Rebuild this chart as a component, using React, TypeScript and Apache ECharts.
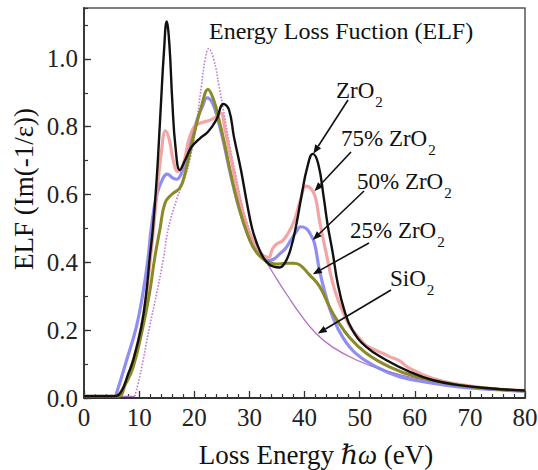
import React, { useEffect, useRef } from "react";
import * as echarts from "echarts";

// ---------- data ----------
const zrO2E = [0, 5.5, 6.8, 8, 8.9, 10.4, 11.3, 11.9, 12.5, 13.2, 13.6, 14, 14.5, 15, 15.5, 16, 16.6, 17.4, 18.3, 19.5, 21, 22.5, 24, 25.3, 26.3, 27.2, 28.5, 29.5, 30.5, 31.5, 32.5, 33.5, 34.5, 35.5, 36.5, 37.5, 38.5, 39.5, 40.5, 41.5, 42.5, 43.5, 44.2, 45.1, 46, 47.2, 48.7, 51.2, 54.8, 59, 63.2, 68, 74, 80];
const zrO2ELF = [0.005, 0.005, 0.02, 0.07, 0.11, 0.21, 0.31, 0.41, 0.5, 0.65, 0.76, 0.88, 1.02, 1.11, 1.04, 0.88, 0.74, 0.672, 0.7, 0.74, 0.765, 0.785, 0.82, 0.867, 0.85, 0.77, 0.67, 0.58, 0.5, 0.45, 0.415, 0.395, 0.387, 0.385, 0.4, 0.44, 0.51, 0.6, 0.68, 0.72, 0.69, 0.59, 0.51, 0.43, 0.34, 0.26, 0.2, 0.151, 0.112, 0.078, 0.053, 0.038, 0.028, 0.022];

const zr75E = [0, 5.5, 6.8, 8.9, 10.4, 11.3, 11.9, 12.5, 13.2, 14, 14.8, 15.5, 16.2, 17, 18, 19, 20, 21, 22, 23, 24, 24.8, 25.6, 26.5, 27.5, 28.5, 29.5, 30.5, 31.5, 32.5, 33.5, 34.2, 35, 36, 37, 38.2, 39.2, 40.3, 41.3, 42, 42.7, 43.9, 45.1, 46.3, 47.5, 48.5, 50, 51.2, 53, 54.2, 55.4, 57.2, 59, 63.2, 68, 74, 80];
const zr75ELF = [0.005, 0.005, 0.02, 0.11, 0.21, 0.3, 0.39, 0.48, 0.6, 0.72, 0.788, 0.76, 0.7, 0.668, 0.69, 0.76, 0.8, 0.81, 0.815, 0.82, 0.83, 0.84, 0.79, 0.72, 0.64, 0.57, 0.51, 0.47, 0.44, 0.42, 0.415, 0.44, 0.455, 0.463, 0.485, 0.525, 0.58, 0.625, 0.615, 0.59, 0.525, 0.43, 0.34, 0.28, 0.235, 0.205, 0.175, 0.155, 0.14, 0.132, 0.122, 0.11, 0.088, 0.058, 0.04, 0.028, 0.022];

const zr50E = [0, 5.5, 5.9, 7.7, 9.5, 10.7, 11.6, 12.2, 13.2, 14.4, 15.1, 16, 16.8, 17.6, 18.5, 19.5, 20.5, 21.5, 22.3, 23.3, 24.3, 25.3, 26.3, 27.3, 28.3, 29.3, 30.3, 31.3, 32.3, 33.5, 34.5, 35.5, 36.5, 37.5, 38.5, 39.3, 40.3, 41, 41.8, 42.7, 43.9, 45.1, 46.9, 49.4, 53, 57.2, 63.2, 68, 74, 80];
const zr50ELF = [0.005, 0.005, 0.015, 0.11, 0.21, 0.31, 0.41, 0.5, 0.6, 0.65, 0.66, 0.65, 0.645, 0.66, 0.7, 0.76, 0.82, 0.86, 0.885, 0.87, 0.82, 0.755, 0.68, 0.61, 0.55, 0.5, 0.46, 0.435, 0.415, 0.405, 0.41, 0.425, 0.44, 0.465, 0.49, 0.505, 0.5, 0.485, 0.457, 0.378, 0.3, 0.24, 0.18, 0.13, 0.092, 0.063, 0.044, 0.033, 0.025, 0.02];

const zr25E = [0, 6.2, 7.5, 8.9, 10.7, 11.9, 12.8, 13.8, 14.7, 15.9, 17.4, 18.3, 19.3, 20.3, 21.3, 22.5, 23.5, 24.5, 25.5, 26.5, 27.5, 28.5, 29.5, 30.5, 31.5, 32.5, 33.5, 35, 36.5, 38, 39.1, 40.9, 42.7, 44.5, 45.7, 48.1, 51.2, 55.4, 60.2, 68, 74, 80];
const zr25ELF = [0.005, 0.005, 0.04, 0.09, 0.21, 0.31, 0.41, 0.5, 0.575, 0.6, 0.62, 0.66, 0.73, 0.8, 0.86, 0.91, 0.88, 0.82, 0.75, 0.67, 0.6, 0.54, 0.49, 0.45, 0.425, 0.41, 0.4, 0.395, 0.397, 0.397, 0.393, 0.363, 0.33, 0.27, 0.235, 0.18, 0.132, 0.092, 0.063, 0.038, 0.027, 0.021];

const siO2E = [0, 9.2, 10.1, 11.9, 13.2, 14.4, 15.3, 16.8, 18.3, 19.3, 20.3, 21.3, 22, 22.6, 23.5, 24.5, 25.5, 26.5, 27.5, 28.5, 29.5, 30.5, 31.5, 32.5, 33.5, 35, 37, 39.1, 42.1, 45.1, 49.4, 54.2, 60.2, 68, 74, 80];
const siO2ELF = [0.005, 0.005, 0.062, 0.21, 0.31, 0.41, 0.5, 0.585, 0.65, 0.71, 0.8, 0.92, 1.0, 1.03, 1.0, 0.92, 0.83, 0.74, 0.66, 0.58, 0.52, 0.47, 0.435, 0.41, 0.39, 0.35, 0.3, 0.25, 0.19, 0.15, 0.112, 0.083, 0.058, 0.038, 0.027, 0.02];

const siO2DottedFrom = 9.2;
const siO2DottedTo = 33.5;

// annotation labels and where their arrows point (data coords)
const labelTexts = ["ZrO{s|2}", "75% ZrO{s|2}", "50% ZrO{s|2}", "25% ZrO{s|2}", "SiO{s|2}"];
const arrowTips: [number, number][] = [[41.6, 0.72], [41.8, 0.61], [41.5, 0.466], [41.5, 0.365], [42.4, 0.19]];

const SERIF = "'Liberation Serif', 'Times New Roman', 'DejaVu Serif', serif";

function pairs(xs: number[], ys: number[]) {
  return xs.map((x, i) => [x, ys[i]]);
}

export default function App() {
  const ref = useRef<HTMLDivElement>(null);

  useEffect(() => {
    if (!ref.current) return;
    const chart = echarts.init(ref.current, null, { renderer: "svg" });

    const siSolid = siO2E.map((x, i) =>
      x > siO2DottedFrom && x < siO2DottedTo ? [x, "-"] : [x, siO2ELF[i]]
    );
    const siDotted = siO2E
      .map((x, i) => [x, siO2ELF[i]])
      .filter((p) => p[0] >= siO2DottedFrom && p[0] <= siO2DottedTo);

    const lineBase = {
      type: "line",
      showSymbol: false,
      symbol: "none",
      smooth: 0.45,
      silent: true,
    };

    chart.setOption({
      animation: false,
      backgroundColor: "#ffffff",
      grid: {
        left: 84,
        right: 13,
        top: 8,
        bottom: 72,
        show: true,
        borderColor: "#555",
        borderWidth: 1.5,
        containLabel: false,
        outerBoundsMode: "none",
      },
      xAxis: {
        type: "value",
        min: 0,
        max: 80,
        interval: 10,
        axisLine: { lineStyle: { color: "#333", width: 1.8 } },
        axisTick: { inside: true, length: 7, lineStyle: { color: "#333", width: 1.3 } },
        minorTick: { show: true, splitNumber: 5, length: 4, lineStyle: { color: "#333", width: 1.2 } },
        splitLine: { show: false },
        minorSplitLine: { show: false },
        axisLabel: { fontFamily: SERIF, fontSize: 25, color: "#222", margin: 7 },
      },
      yAxis: [
        {
          type: "value",
          min: 0,
          max: 1.15,
          interval: 0.2,
          axisLine: { lineStyle: { color: "#333", width: 1.8 } },
          axisTick: { inside: true, length: 7, lineStyle: { color: "#333", width: 1.3 } },
          splitLine: { show: false },
          axisLabel: {
            fontFamily: SERIF,
            fontSize: 25,
            color: "#222",
            margin: 6,
            showMaxLabel: false,
            formatter: (v: number) => (v > 1.05 ? "" : v.toFixed(1)),
          },
        },
        {
          type: "value",
          position: "left",
          min: 0,
          max: 1.15,
          interval: 0.1,
          axisLine: { show: false },
          axisTick: { inside: true, length: 4, lineStyle: { color: "#333", width: 1.2 } },
          axisLabel: { show: false },
          splitLine: { show: false },
        },
      ],
      series: [
        { ...lineBase, name: "SiO2", data: siSolid, connectNulls: false, lineStyle: { color: "#b46ec6", width: 1.3 } },
        { ...lineBase, name: "SiO2 dotted", data: siDotted, lineStyle: { color: "#c07ad0", width: 1.6, type: "dotted" } },
        { ...lineBase, name: "50% ZrO2", data: pairs(zr50E, zr50ELF), lineStyle: { color: "#8282f2", width: 3.2, opacity: 0.9 } },
        { ...lineBase, name: "75% ZrO2", data: pairs(zr75E, zr75ELF), lineStyle: { color: "#f29a9a", width: 3.2, opacity: 0.9 } },
        { ...lineBase, name: "25% ZrO2", data: pairs(zr25E, zr25ELF), lineStyle: { color: "#8a8a26", width: 3 } },
        { ...lineBase, name: "ZrO2", data: pairs(zrO2E, zrO2ELF), lineStyle: { color: "#111111", width: 2.4 } },
      ],
    });

    // annotation layout (pixel positions of labels and arrow tails)
    const labelPos: [number, number][] = [[336, 90], [341, 138], [357, 181], [350, 230], [390, 278]];
    const arrowTails: [number, number][] = [[348, 100], [351, 152], [364, 191], [369, 243], [391, 290]];

    const graphics: any[] = [];
    graphics.push({
      type: "text",
      x: 209,
      y: 31,
      style: { text: "Energy Loss Fuction (ELF)", font: `24px ${SERIF}`, fill: "#111", align: "left", verticalAlign: "middle" },
    });
    graphics.push({
      type: "text",
      x: 24,
      y: 189,
      rotation: Math.PI / 2,
      style: { text: "ELF (Im(-1/ε))", font: `27px ${SERIF}`, fill: "#111", align: "center", verticalAlign: "middle" },
    });
    graphics.push({
      type: "text",
      x: 316,
      y: 455,
      style: {
        text: "Loss Energy {i|ℏω} (eV)",
        font: `27px ${SERIF}`,
        fill: "#111",
        align: "center",
        verticalAlign: "middle",
        rich: { i: { fontFamily: SERIF, fontSize: 27, fontStyle: "italic", fill: "#111" } },
      },
    });

    labelTexts.forEach((t, k) => {
      graphics.push({
        type: "text",
        x: labelPos[k][0],
        y: labelPos[k][1],
        style: {
          text: t,
          font: `23px ${SERIF}`,
          fill: "#111",
          align: "left",
          verticalAlign: "middle",
          rich: { s: { fontFamily: SERIF, fontSize: 15, padding: [24, 0, 0, 1], fill: "#111" } },
        },
      });
      const tip = chart.convertToPixel({ gridIndex: 0 } as any, arrowTips[k]) as number[];
      const tail = arrowTails[k];
      const dx = tip[0] - tail[0];
      const dy = tip[1] - tail[1];
      const len = Math.sqrt(dx * dx + dy * dy);
      const ux = dx / len;
      const uy = dy / len;
      const hl = 9;
      const hw = 3.5;
      const bx = tip[0] - ux * hl;
      const by = tip[1] - uy * hl;
      graphics.push({
        type: "line",
        shape: { x1: tail[0], y1: tail[1], x2: bx, y2: by },
        style: { stroke: "#111", lineWidth: 1.6 },
        z: 100,
      });
      graphics.push({
        type: "polygon",
        shape: {
          points: [
            [tip[0], tip[1]],
            [bx - uy * hw, by + ux * hw],
            [bx + uy * hw, by - ux * hw],
          ],
        },
        style: { fill: "#111" },
        z: 100,
      });
    });

    chart.setOption({ graphic: graphics });

    return () => chart.dispose();
  }, []);

  return (
    <div
      ref={ref}
      style={{ position: "absolute", left: 0, top: 0, width: 538, height: 470, background: "#fff" }}
    />
  );
}
